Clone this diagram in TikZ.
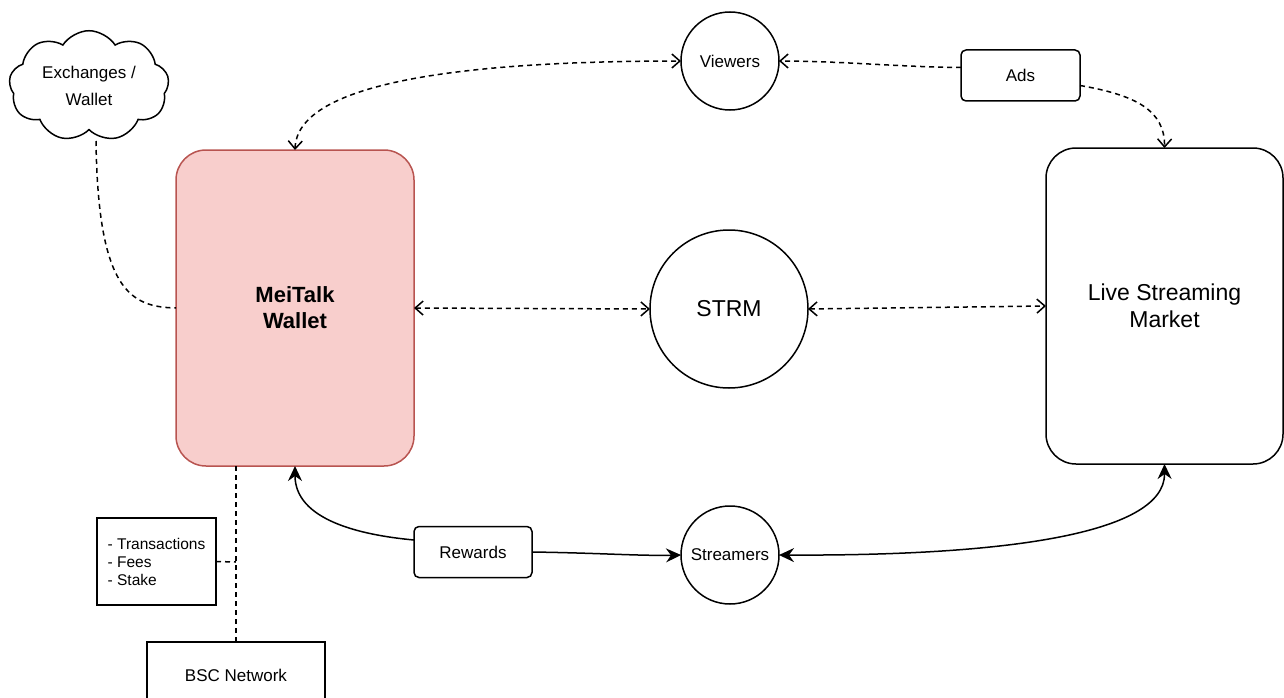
\documentclass[tikz,border=0pt]{standalone}
\usepackage{fontspec}
\setmainfont{Liberation Sans}
\usetikzlibrary{arrows.meta,shapes.symbols,shapes.geometric,calc}
\definecolor{wfill}{HTML}{F8CECC}
\definecolor{wdraw}{HTML}{B85450}
\begin{document}
\begin{tikzpicture}[x=1pt,y=-1pt,line width=1.5pt,
  lbl/.style={font=\fontsize{17}{27}\selectfont},
  bigbox/.style={draw,rounded corners=30pt,outer sep=0pt,align=center},
  smallbox/.style={draw,rounded corners=5pt,outer sep=0pt,lbl},
  sqbox/.style={draw,outer sep=0pt},
  circ/.style={draw,circle,inner sep=0pt,outer sep=0pt},
  dconn/.style={dashed,dash pattern=on 5pt off 4pt},
  openboth/.style={dconn,{Straight Barb[length=8pt,width=14pt]}-{Straight Barb[length=8pt,width=14pt]}},
  openend/.style={dconn,-{Straight Barb[length=8pt,width=14pt]}},
  fillend/.style={-{Stealth[length=15pt,width=14pt,inset=5pt]}},
  fillboth/.style={{Stealth[length=15pt,width=14pt,inset=5pt]}-{Stealth[length=15pt,width=14pt,inset=5pt]}}]
\useasboundingbox (0,0) rectangle (1284,698);

% nodes
\node[draw,cloud,cloud puffs=9,cloud puff arc=115,aspect=1.45,minimum width=160,minimum height=108,inner sep=0pt,lbl,align=center] (ex) at (89,86) {Exchanges /\\Wallet};
\node[bigbox,fill=wfill,draw=wdraw,minimum width=238,minimum height=316,font=\fontsize{22}{26}\selectfont\bfseries] (wallet) at (295,308) {MeiTalk\\Wallet};
\node[bigbox,minimum width=237,minimum height=316,font=\fontsize{23}{27}\selectfont] (lsm) at (1164.5,306) {Live Streaming\\Market};
\node[circ,minimum size=98,lbl] (viewers) at (730,61) {Viewers};
\node[circ,minimum size=158,font=\fontsize{23}{27}\selectfont] (strm) at (729,309) {STRM};
\node[circ,minimum size=98,lbl] (streamers) at (730,555) {Streamers};
\node[smallbox,minimum width=119,minimum height=51] (ads) at (1020.5,75.5) {Ads};
\node[smallbox,minimum width=118,minimum height=51] (rewards) at (473,552) {Rewards};
\node[sqbox,minimum width=119,minimum height=87,align=left,font=\fontsize{15.5}{18}\selectfont] (tx) at (156.5,561.5) {- Transactions\\- Fees\\- Stake};
\node[sqbox,minimum width=178,minimum height=66,lbl] (bsc) at (236,675) {BSC Network};

% helper coordinates
\coordinate (exb) at (96,141);
\coordinate (wb) at (236,466);
\coordinate (txj) at (236,562);
\coordinate (adsw) at ($(ads.west)+(0,-8)$);
\coordinate (adse) at ($(ads.east)+(0,10)$);
\coordinate (rewin) at ($(rewards.west)+(0,-12)$);

% dashed connectors
\draw[openboth] (wallet.north) .. controls (297,85) and (450,61) .. (viewers.west);
\draw[openend] (adsw) .. controls (900,67) and (840,61) .. (viewers.east);
\draw[openend] (adse) .. controls (1135,95) and (1165,110) .. (lsm.north);
\draw[openboth] (wallet.east) -- (strm.west);
\draw[openboth] (strm.east) -- (lsm.west);
\draw[dconn] (exb) .. controls (98,290) and (130,307) .. (wallet.west);
\draw[dconn] (wb) -- (bsc.north);
\draw[dconn] (tx.east) -- (txj);

% solid connectors
\draw[fillend] (rewin) .. controls (360,535) and (295,520) .. (wallet.south);
\draw[fillend] (rewards.east) .. controls (600,553) and (640,556) .. (streamers.west);
\draw[fillboth] (streamers.east) .. controls (1000,556) and (1165,535) .. (lsm.south);
\end{tikzpicture}
\end{document}
